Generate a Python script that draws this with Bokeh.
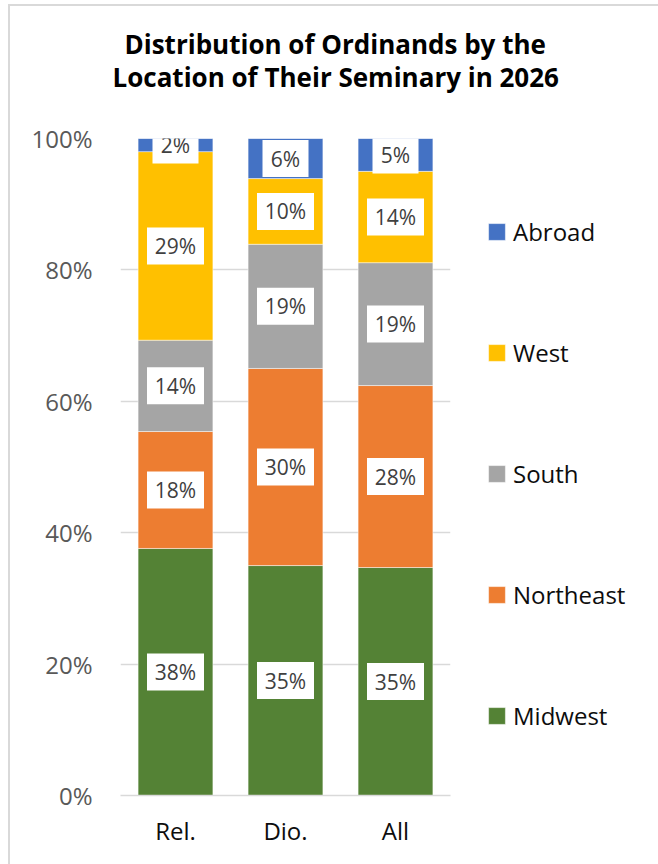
from bokeh.plotting import figure
from bokeh.models import (ColumnDataSource, Title, Legend, LegendItem, FixedTicker)
from bokeh.core.properties import value
from bokeh.embed import file_html
from bokeh.resources import INLINE

# ---- data ----
categories = ["Rel.", "Dio.", "All"]
series = ["Midwest", "Northeast", "South", "West", "Abroad"]
midwest = [0.376, 0.350, 0.347]
northeast = [0.178, 0.300, 0.277]
south = [0.139, 0.189, 0.187]
west = [0.287, 0.100, 0.139]
abroad = [0.020, 0.061, 0.050]
colors = ["#548235", "#ED7D31", "#A5A5A5", "#FFC000", "#4472C4"]
y_ticks = [0, 0.2, 0.4, 0.6, 0.8, 1.0]
y_tick_labels = ["0%", "20%", "40%", "60%", "80%", "100%"]
title_lines = ["Distribution of Ordinands by the", "Location of Their Seminary in 2026"]

FONT = "Open Sans"

data = {"cat": categories, "Midwest": midwest, "Northeast": northeast,
        "South": south, "West": west, "Abroad": abroad}
source = ColumnDataSource(data)

p = figure(x_range=categories, y_range=(0, 1),
           frame_width=330, frame_height=657,
           min_border_left=110, min_border_right=206,
           min_border_top=132, min_border_bottom=69,
           output_backend="svg", toolbar_location=None,
           background_fill_color="white", border_fill_color="white",
           margin=(4, 0, 0, 8))
p.outline_line_color = None
p.styles = {"border-top": "2px solid #D9D9D9", "border-left": "2px solid #D9D9D9"}

renderers = p.vbar_stack(series, x="cat", width=0.68, source=source,
                         color=colors, line_color="white", line_width=0.8,
                         line_alpha=0.6)

# data labels
bottoms = [0.0, 0.0, 0.0]
for name, vals in zip(series, [midwest, northeast, south, west, abroad]):
    mids = [b + v / 2 for b, v in zip(bottoms, vals)]
    texts = [f"{round(v * 100):d}%" for v in vals]
    widths = [24 + 11 * len(t) for t in texts]
    lsrc = ColumnDataSource({"cat": categories, "y": mids, "t": texts, "w": widths})
    p.rect(x="cat", y="y", width="w", height=37, width_units="screen",
           height_units="screen", source=lsrc, fill_color="white", line_color=None)
    p.text(x="cat", y="y", text="t", source=lsrc, text_align="center",
           text_baseline="middle", text_font=value(FONT), text_font_size="21px",
           text_color="#404040")
    bottoms = [b + v for b, v in zip(bottoms, vals)]

# axes
p.yaxis.ticker = FixedTicker(ticks=y_ticks)
p.yaxis.major_label_overrides = {t: l for t, l in zip(y_ticks, y_tick_labels)}
p.yaxis.axis_line_color = None
p.yaxis.major_tick_line_color = None
p.yaxis.minor_tick_line_color = None
p.yaxis.major_label_standoff = 22
p.yaxis.major_label_text_font = FONT
p.yaxis.major_label_text_font_size = "24px"
p.yaxis.major_label_text_color = "#595959"

p.xaxis.axis_line_color = "#D9D9D9"
p.xaxis.axis_line_width = 1.5
p.xaxis.major_tick_line_color = None
p.xaxis.minor_tick_line_color = None
p.xaxis.major_label_standoff = 12
p.xaxis.major_label_text_font = FONT
p.xaxis.major_label_text_font_size = "24px"
p.xaxis.major_label_text_color = "#0d0d0d"

p.xgrid.grid_line_color = None
p.ygrid.ticker = FixedTicker(ticks=y_ticks)
p.ygrid.grid_line_color = "#D9D9D9"
p.ygrid.grid_line_width = 1.5

# title: a thin spacer next to the frame, then line 2, then line 1
p.add_layout(Title(text=" ", text_font_size="1px", standoff=41), "above")
title_offsets = [4, -8]
title_standoffs = [-10, 0]
for line, off, so in list(zip(title_lines, title_offsets, title_standoffs))[::-1]:
    p.add_layout(Title(text=line, align="left", offset=off, text_font=FONT,
                       text_font_style="bold", text_font_size="26px",
                       text_color="black", standoff=so), "above")

# legend
items = [LegendItem(label=s, renderers=[r]) for s, r in zip(series, renderers)][::-1]
legend = Legend(items=items, location=(36, 63), margin=0, padding=0,
                glyph_width=21, glyph_height=21, label_height=28,
                label_standoff=6, spacing=88,
                label_text_font=FONT, label_text_font_size="24px",
                label_text_color="#0d0d0d",
                border_line_color=None, background_fill_alpha=0)
p.add_layout(legend, "right")

open("out.html", "w").write(file_html(p, INLINE))
